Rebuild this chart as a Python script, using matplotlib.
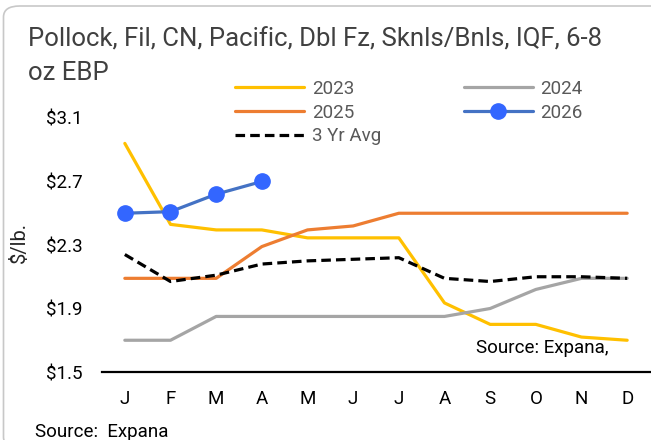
import numpy as np
import matplotlib.pyplot as plt
from matplotlib.patches import FancyBboxPatch

months = ['J', 'F', 'M', 'A', 'M', 'J', 'J', 'A', 'S', 'O', 'N', 'D']
y2023 = [2.94, 2.43, 2.395, 2.395, 2.345, 2.345, 2.345, 1.935, 1.80, 1.80, 1.72, 1.70]
y2024 = [1.70, 1.70, 1.85, 1.85, 1.85, 1.85, 1.85, 1.85, 1.90, 2.02, 2.09, 2.09]
y2025 = [2.09, 2.09, 2.09, 2.29, 2.395, 2.42, 2.50, 2.50, 2.50, 2.50, 2.50, 2.50]
y2026 = [2.50, 2.51, 2.62, 2.70]
avg3 = [2.24, 2.07, 2.11, 2.18, 2.20, 2.21, 2.22, 2.09, 2.07, 2.10, 2.10, 2.09]
yticks = [1.5, 1.9, 2.3, 2.7, 3.1]

plt.rcParams['font.family'] = ['Roboto', 'DejaVu Sans']

fig = plt.figure(figsize=(6.51, 4.4), dpi=100)
fig.patches.append(FancyBboxPatch((3.5 / 651, -8 / 440), 670 / 651, 442 / 440,
                                  boxstyle='round,pad=0,rounding_size=0.025',
                                  transform=fig.transFigure, fc='white',
                                  ec='#c8c8c8', lw=1.2, zorder=-1))

ax = fig.add_axes([102 / 651, 68 / 440, 548 / 651, 254 / 440])
ax.set_facecolor('none')
x = np.arange(12)
l23, = ax.plot(x, y2023, color='#FFC000', lw=2.3, label='2023', solid_capstyle='round')
l24, = ax.plot(x, y2024, color='#A5A5A5', lw=2.3, label='2024', solid_capstyle='round')
l25, = ax.plot(x, y2025, color='#ED7D31', lw=2.3, label='2025', solid_capstyle='round')
l26, = ax.plot(x[:len(y2026)], y2026, color='#4472C4', lw=2.3, marker='o', ms=11,
               mfc='#3366FF', mec='#3366FF', label='2026', solid_capstyle='round')
lav, = ax.plot(x, avg3, color='black', lw=2.3, ls=(0, (3, 1.6)), label='3 Yr Avg')

ax.set_xlim(-0.5, 11.5)
ax.set_ylim(1.5, 3.1)
ax.set_xticks(x)
ax.set_xticklabels(months, fontsize=13.5)
ax.set_yticks(yticks)
ax.set_yticklabels(['$%.1f' % v for v in yticks], fontsize=13.5)
ax.tick_params(axis='both', length=0, colors='black')
ax.tick_params(axis='y', pad=14)
ax.tick_params(axis='x', pad=13)
for s in ['top', 'right', 'left']:
    ax.spines[s].set_visible(False)
ax.spines['bottom'].set_linewidth(1.6)
ax.set_ylabel('$/lb.', fontsize=14.5, color='#262626')
ax.yaxis.set_label_coords(-0.133, 0.508)

# row-wise legend: 2023 2024 / 2025 2026 / 3 Yr Avg
handles = [l23, l25, lav, l24, l26]
leg = fig.legend(handles, [h.get_label() for h in handles], ncol=2, loc='upper left',
                 bbox_to_anchor=(235 / 651, 1 - 80 / 440), frameon=False,
                 fontsize=13.5, handlelength=3.7, handletextpad=0.4,
                 columnspacing=4.4, labelspacing=0.3, borderaxespad=0, borderpad=0)
for t in leg.get_texts():
    t.set_color('#595959')

fig.text(28 / 651, 1 - 40 / 440, 'Pollock, Fil, CN, Pacific, Dbl Fz, Sknls/Bnls, IQF, 6-8',
         fontsize=18.5, color='#404040', va='center', ha='left')
fig.text(28 / 651, 1 - 73 / 440, 'oz EBP',
         fontsize=18.5, color='#404040', va='center', ha='left')
fig.text(608 / 651, 1 - 348 / 440, 'Source: Expana,', fontsize=13.5,
         color='black', ha='right', va='center')
fig.text(35 / 651, 1 - 432 / 440, 'Source:  Expana', fontsize=13.5,
         color='black', ha='left', va='center')

fig.savefig('out.png', dpi=100)
